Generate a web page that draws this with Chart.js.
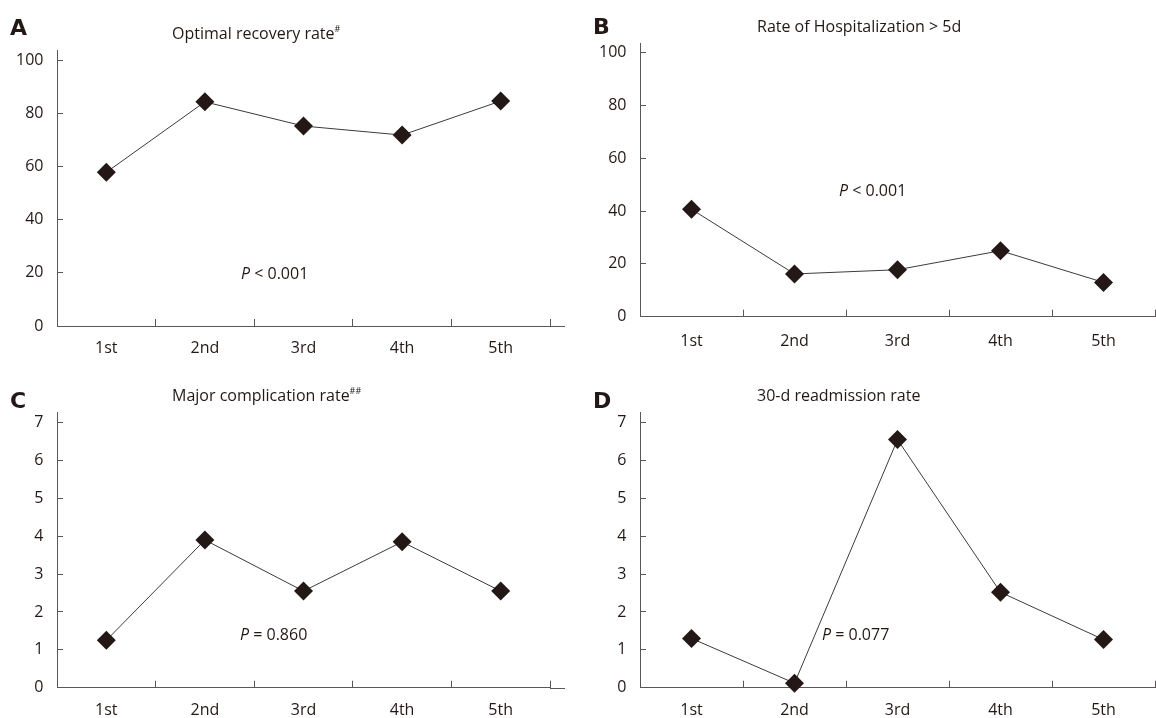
<!DOCTYPE html>
<html>
<head>
<meta charset="utf-8">
<script src="https://cdn.jsdelivr.net/npm/chart.js@4.4.1/dist/chart.umd.min.js"></script>
<style>
  html, body { margin: 0; padding: 0; background: #ffffff; }
  #wrap { position: relative; width: 1156px; height: 718px; overflow: hidden; background: #fff; }
  canvas { position: absolute; }
</style>
</head>
<body>
<div id="wrap">
  <canvas id="cA" width="578" height="359" style="left:0;top:0"></canvas>
  <canvas id="cB" width="578" height="359" style="left:578px;top:0"></canvas>
  <canvas id="cC" width="578" height="359" style="left:0;top:359px"></canvas>
  <canvas id="cD" width="578" height="359" style="left:578px;top:359px"></canvas>
</div>
<script>
// ---- data ----
const categories = ['1st', '2nd', '3rd', '4th', '5th'];
const optimalRecovery = [57.8, 84.3, 75.2, 71.8, 84.6];
const hospitalization5d = [40.7, 16.2, 17.8, 25.0, 13.0];
const majorComplication = [1.25, 3.9, 2.55, 3.85, 2.55];
const readmission30d = [1.3, 0.12, 6.55, 2.52, 1.27];
const percentTicks = [0, 20, 40, 60, 80, 100];
const smallTicks = [0, 1, 2, 3, 4, 5, 6, 7];

// ---- styles ----
const INK = '#231815';
const AXIS = '#595757';
const FONT = '"Open Sans", "Noto Sans", sans-serif';

// plugin: rich text (titles, letters, P values) and axis extension
const panelPlugin = {
  id: 'panelDeco',
  afterDraw(chart, args, opts) {
    const ctx = chart.ctx;
    ctx.save();
    if (opts.extend) {
      const ca = chart.chartArea;
      ctx.strokeStyle = AXIS;
      ctx.lineWidth = 1;
      ctx.beginPath();
      const yb = Math.round(ca.bottom) + 0.5;
      ctx.moveTo(ca.right, yb);
      ctx.lineTo(ca.right + opts.extend, yb);
      ctx.stroke();
    }
    ctx.fillStyle = INK;
    ctx.textBaseline = 'alphabetic';
    ctx.textAlign = 'left';
    (opts.items || []).forEach(it => {
      let x = it.x;
      it.parts.forEach(p => {
        ctx.font = p.font;
        ctx.fillText(p.t, x, it.y + (p.dy || 0));
        x += ctx.measureText(p.t).width;
      });
    });
    ctx.restore();
  }
};

function makeChart(id, cfg) {
  const allowed = cfg.tickValues;
  return new Chart(document.getElementById(id), {
    type: 'line',
    data: {
      labels: categories,
      datasets: [{
        data: cfg.values,
        borderColor: '#3e3a39',
        borderWidth: 1,
        backgroundColor: INK,
        pointStyle: 'rectRot',
        pointRadius: 9.5,
        pointHoverRadius: 9.5,
        pointBackgroundColor: INK,
        pointBorderColor: INK,
        pointBorderWidth: 0,
        tension: 0,
        clip: false
      }]
    },
    options: {
      responsive: false,
      animation: false,
      devicePixelRatio: 1,
      layout: { autoPadding: false, padding: { left: 0, top: cfg.top, right: cfg.right, bottom: 0 } },
      plugins: {
        legend: { display: false },
        tooltip: { enabled: false },
        title: { display: false },
        panelDeco: { items: cfg.items, extend: cfg.extend }
      },
      scales: {
        x: {
          type: 'category',
          offset: true,
          grid: { offset: true, drawOnChartArea: false, drawTicks: true, tickLength: -7, color: AXIS, lineWidth: 1 },
          border: { display: true, color: AXIS, width: 1 },
          ticks: { color: INK, font: { family: FONT, size: 16 }, padding: cfg.xPad, maxRotation: 0, autoSkip: false },
          afterFit: s => { s.height = cfg.xHeight; }
        },
        y: {
          type: 'linear',
          min: 0,
          max: cfg.yMax,
          ticks: { color: INK, font: { family: FONT, size: 16 }, padding: 19.5 },
          afterBuildTicks: s => { s.ticks = allowed.map(v => ({ value: v })); },
          grid: { drawOnChartArea: false, drawTicks: true, tickLength: -6, color: AXIS, lineWidth: 1 },
          border: { display: true, color: AXIS, width: 1 },
          afterFit: s => { s.width = cfg.yWidth; }
        }
      }
    },
    plugins: [panelPlugin]
  });
}

const F_TITLE = '16px ' + FONT;
const F_SUP = '9px ' + FONT;
const F_LET = 'bold 22px "DejaVu Sans", sans-serif';
const F_IT = 'italic 16px ' + FONT;

makeChart('cA', {
  values: optimalRecovery, yMax: 103.8, tickValues: percentTicks,
  top: 50, right: 28, yWidth: 57, xHeight: 33, xPad: 20, extend: 15,
  items: [
    { x: 10, y: 35, parts: [{ t: 'A', font: F_LET }] },
    { x: 172, y: 38.5, parts: [{ t: 'Optimal recovery rate', font: F_TITLE }, { t: '#', font: F_SUP, dy: -7 }] },
    { x: 241, y: 279, parts: [{ t: 'P', font: F_IT }, { t: ' < 0.001', font: F_TITLE }] }
  ]
});
makeChart('cB', {
  values: hospitalization5d, yMax: 103.7, tickValues: percentTicks,
  top: 43, right: 1, yWidth: 62, xHeight: 42.3, xPad: 22, extend: 0,
  items: [
    { x: 15, y: 34, parts: [{ t: 'B', font: F_LET }] },
    { x: 179, y: 31.5, parts: [{ t: 'Rate of Hospitalization > 5d', font: F_TITLE }] },
    { x: 261, y: 196, parts: [{ t: 'P', font: F_IT }, { t: ' < 0.001', font: F_TITLE }] }
  ]
});
makeChart('cC', {
  values: majorComplication, yMax: 7.26, tickValues: smallTicks,
  top: 53.7, right: 28, yWidth: 57, xHeight: 30.3, xPad: 20, extend: 15,
  items: [
    { x: 10, y: 48.5, parts: [{ t: 'C', font: F_LET }] },
    { x: 172, y: 41.5, parts: [{ t: 'Major complication rate', font: F_TITLE }, { t: '##', font: F_SUP, dy: -7 }] },
    { x: 240, y: 281, parts: [{ t: 'P', font: F_IT }, { t: ' = 0.860', font: F_TITLE }] }
  ]
});
makeChart('cD', {
  values: readmission30d, yMax: 7.26, tickValues: smallTicks,
  top: 53.7, right: 1, yWidth: 62, xHeight: 30.3, xPad: 20, extend: 0,
  items: [
    { x: 15, y: 48.5, parts: [{ t: 'D', font: F_LET }] },
    { x: 179, y: 41.5, parts: [{ t: '30-d readmission rate', font: F_TITLE }] },
    { x: 244, y: 281, parts: [{ t: 'P', font: F_IT }, { t: ' = 0.077', font: F_TITLE }] }
  ]
});
</script>
</body>
</html>
